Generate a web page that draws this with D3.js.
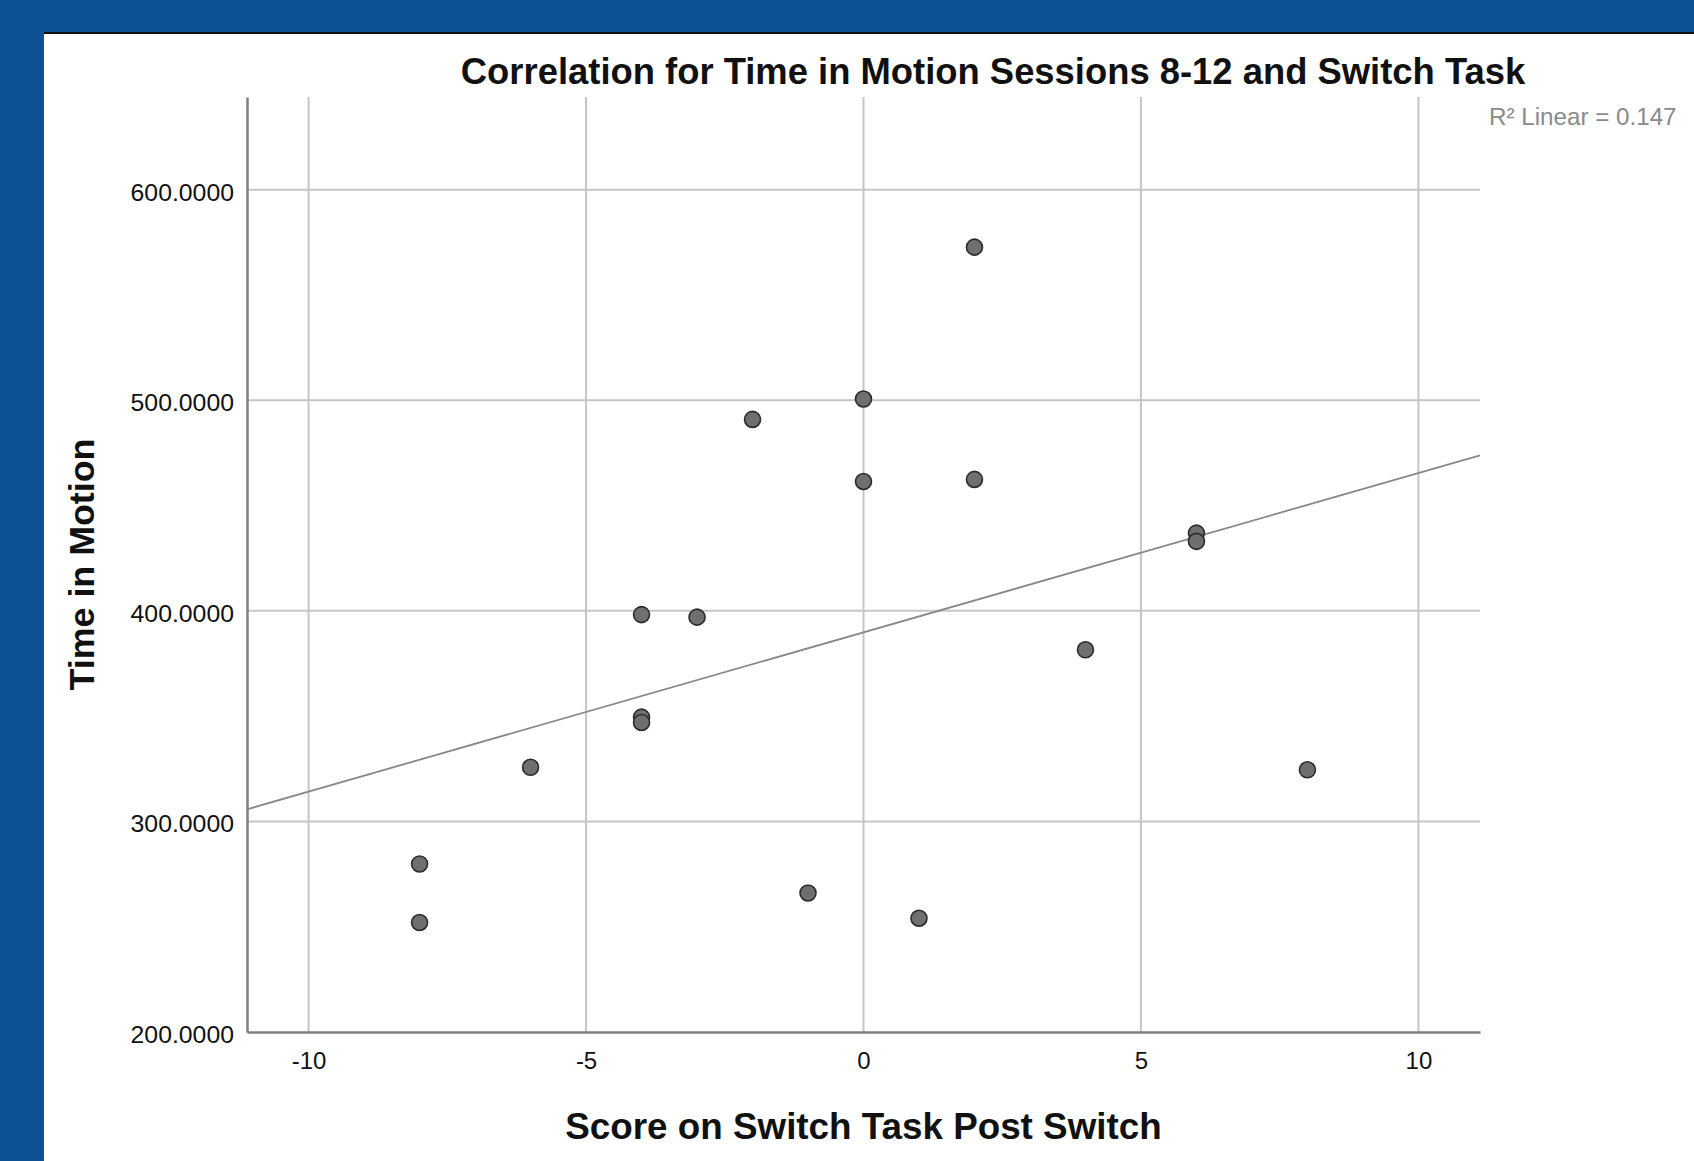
<!DOCTYPE html>
<html>
<head>
<meta charset="utf-8">
<script src="https://cdn.jsdelivr.net/npm/d3@7"></script>
<style>
  html, body { margin: 0; padding: 0; background: #0e5296; }
  svg { display: block; }
  text { font-family: "Liberation Sans", Arial, sans-serif; }
</style>
</head>
<body>
<svg id="chart" width="1694" height="1161"></svg>
<script>
// ---- Data ----
const xValues = [2, 0, -2, 0, 2, 6, 6, -4, -3, 4, -4, -4, -6, 8, -8, -1, 1, -8];
const yValues = [572.7, 500.6, 490.9, 461.4, 462.4, 436.9, 433.0, 398.2, 397.0, 381.5, 349.5, 347.0, 325.7, 324.5, 279.8, 266.0, 254.0, 252.0];
const xTicks = [-10, -5, 0, 5, 10];
const yTicks = [200, 300, 400, 500, 600];
const titleText = "Correlation for Time in Motion Sessions 8-12 and Switch Task";
const xLabel = "Score on Switch Task Post Switch";
const yLabel = "Time in Motion";
const r2Text = "R\u00B2 Linear = 0.147";

const svg = d3.select("#chart");

// background
svg.append("rect").attr("x", 0).attr("y", 0).attr("width", 1694).attr("height", 1161).attr("fill", "#0e5296");
svg.append("rect").attr("x", 44).attr("y", 32).attr("width", 1650).attr("height", 1129).attr("fill", "#ffffff");
svg.append("line").attr("x1", 44).attr("x2", 1694).attr("y1", 33).attr("y2", 33)
  .attr("stroke", "#111").attr("stroke-width", 2);

const pLeft = 247, pRight = 1480, pTop = 97, pBottom = 1032;
const x = d3.scaleLinear().domain([-11.11, 11.11]).range([pLeft, pRight]);
const y = d3.scaleLinear().domain([200, 644]).range([pBottom, pTop]);

// grid
const grid = svg.append("g");
grid.selectAll("line.vg").data(xTicks).enter().append("line")
  .attr("x1", d => x(d)).attr("x2", d => x(d)).attr("y1", pTop).attr("y2", pBottom)
  .attr("stroke", "#c6c6c6").attr("stroke-width", 2);
grid.selectAll("line.hg").data(yTicks.filter(d => d > 200)).enter().append("line")
  .attr("x1", pLeft).attr("x2", pRight).attr("y1", d => y(d)).attr("y2", d => y(d))
  .attr("stroke", "#c6c6c6").attr("stroke-width", 2);

// axes
const xAxis = d3.axisBottom(x).tickValues(xTicks).tickSize(0).tickPadding(20).tickFormat(d => String(d));
const yAxis = d3.axisLeft(y).tickValues(yTicks).tickSize(0).tickPadding(13).tickFormat(d => d.toFixed(4));

const gx = svg.append("g").attr("transform", `translate(0,${pBottom})`).call(xAxis);
gx.select(".domain").attr("stroke", "#808080").attr("stroke-width", 2.5);
gx.selectAll("text").attr("font-size", 24).attr("fill", "#111")
  .attr("font-family", "'Liberation Sans', Arial, sans-serif");

const gy = svg.append("g").attr("transform", `translate(${pLeft},0)`).call(yAxis);
gy.select(".domain").attr("stroke", "#808080").attr("stroke-width", 2.5);
gy.selectAll("text").attr("font-size", 24.8).attr("fill", "#111").attr("dy", "0.42em")
  .attr("font-family", "'Liberation Sans', Arial, sans-serif");

// regression line (least squares from data)
const n = xValues.length;
const mx = d3.mean(xValues), my = d3.mean(yValues);
let sxy = 0, sxx = 0;
for (let i = 0; i < n; i++) { sxy += (xValues[i] - mx) * (yValues[i] - my); sxx += (xValues[i] - mx) ** 2; }
const slope = sxy / sxx, intercept = my - slope * mx;
const xd = x.domain();
svg.append("line")
  .attr("x1", x(xd[0])).attr("y1", y(intercept + slope * xd[0]))
  .attr("x2", x(xd[1])).attr("y2", y(intercept + slope * xd[1]))
  .attr("stroke", "#888").attr("stroke-width", 1.8);

// points
svg.append("g").selectAll("circle").data(xValues.map((d, i) => [d, yValues[i]])).enter()
  .append("circle")
  .attr("cx", d => x(d[0])).attr("cy", d => y(d[1])).attr("r", 8)
  .attr("fill", "#6f6f6f").attr("stroke", "#2b2b2b").attr("stroke-width", 1.6);

// title
svg.append("text").attr("x", 993).attr("y", 84).attr("text-anchor", "middle")
  .attr("font-size", 36.4).attr("font-weight", "bold").attr("fill", "#111").text(titleText);

// axis titles
svg.append("text").attr("x", x(0)).attr("y", 1139).attr("text-anchor", "middle")
  .attr("font-size", 36.8).attr("font-weight", "bold").attr("fill", "#111").text(xLabel);
svg.append("text").attr("transform", `translate(94,${(pTop + pBottom) / 2}) rotate(-90)`)
  .attr("text-anchor", "middle")
  .attr("font-size", 35.8).attr("font-weight", "bold").attr("fill", "#111").text(yLabel);

// R2 label
svg.append("text").attr("x", 1489).attr("y", 125).attr("font-size", 24.2)
  .attr("fill", "#8a8a8a").text(r2Text);
</script>
</body>
</html>
